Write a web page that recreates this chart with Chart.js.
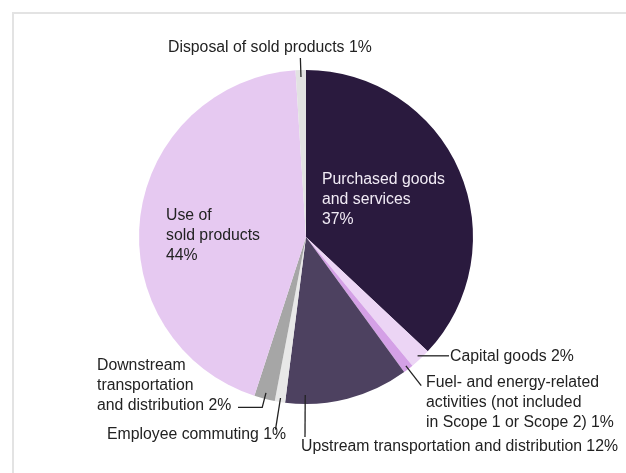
<!DOCTYPE html>
<html>
<head>
<meta charset="utf-8">
<script src="https://cdn.jsdelivr.net/npm/chart.js@4"></script>
<style>
  html, body { margin: 0; padding: 0; background: #fff; }
  #wrap { width: 626px; height: 473px; position: relative; }
</style>
</head>
<body>
<div id="wrap"><canvas id="chart" width="626" height="473"></canvas></div>
<script>
// Scope 3 categories, clockwise from 12 o'clock
const categories = [
    'Purchased goods and services',
    'Capital goods',
    'Fuel- and energy-related activities',
    'Upstream transportation and distribution',
    'Employee commuting',
    'Downstream transportation and distribution',
    'Use of sold products',
    'Disposal of sold products'
];
const shares = [37, 2, 1, 12, 1, 2, 44, 1];
const sliceColors = ['#2a1a3e', '#ecd5f5', '#d4a0e6', '#4d4160', '#e8e8e8', '#a6a6a6', '#e6c9f1', '#e2e2e2'];

// label text lines per slice
const labelLines = [
    ['Purchased goods', 'and services', '37%'],
    ['Capital goods 2%'],
    ['Fuel- and energy-related', 'activities (not included', 'in Scope 1 or Scope 2) 1%'],
    ['Upstream transportation and distribution 12%'],
    ['Employee commuting 1%'],
    ['Downstream', 'transportation', 'and distribution 2%'],
    ['Use of', 'sold products', '44%'],
    ['Disposal of sold products 1%']
];

// label placement (layout only): text origin, leader anchor inside slice
const labelLayout = [
    { x: 322, y: 180, color: '#f1ebf5' },
    { x: 450, y: 357, frac: 0.5, rIn: -4, horizTo: 449 },
    { x: 426, y: 383, frac: 0.5, rIn: -4, rOut: 21 },
    { x: 301, y: 447, frac: 0.84, rIn: -9, rOut: 33 },
    { x: 107, y: 435, frac: 0.5, rIn: -4, rOut: 28 },
    { x: 97, y: 366, frac: 0.5, rIn: -6, rOut: 9, horizTo: 238 },
    { x: 166, y: 216 },
    { x: 168, y: 48, frac: 0.5, rIn: -7, rOut: 12 }
];

const FONT = '15.8px "Liberation Sans", Arial, sans-serif';
const LINE_H = 20;

const labelPlugin = {
    id: 'calloutLabels',
    beforeDraw(chart) {
        const ctx = chart.ctx;
        // light frame at top/left
        ctx.save();
        ctx.fillStyle = '#e3e3e3';
        ctx.fillRect(12, 12, 614, 2);
        ctx.fillRect(12, 12, 2, 461);
        ctx.restore();
    },
    afterDatasetsDraw(chart) {
        const ctx = chart.ctx;
        const arcs = chart.getDatasetMeta(0).data;
        ctx.save();
        ctx.font = FONT;
        ctx.textBaseline = 'middle';
        ctx.textAlign = 'left';
        arcs.forEach((arc, i) => {
            const lay = labelLayout[i];
            const p = arc.getProps(['x', 'y', 'startAngle', 'endAngle', 'outerRadius'], true);
            if (lay.frac !== undefined) {
                const a = p.startAngle + (p.endAngle - p.startAngle) * lay.frac;
                const x0 = p.x + Math.cos(a) * (p.outerRadius + lay.rIn);
                const y0 = p.y + Math.sin(a) * (p.outerRadius + lay.rIn);
                ctx.beginPath();
                ctx.strokeStyle = '#222';
                ctx.lineWidth = 1.3;
                ctx.moveTo(x0, y0);
                let x1 = x0, y1 = y0;
                if (lay.rOut !== undefined) {
                    x1 = p.x + Math.cos(a) * (p.outerRadius + lay.rOut);
                    y1 = p.y + Math.sin(a) * (p.outerRadius + lay.rOut);
                    ctx.lineTo(x1, y1);
                }
                if (lay.horizTo !== undefined) {
                    ctx.lineTo(lay.horizTo, y1);
                }
                ctx.stroke();
            }
            ctx.fillStyle = lay.color || '#222';
            labelLines[i].forEach((line, k) => {
                ctx.fillText(line, lay.x, lay.y + k * LINE_H);
            });
        });
        ctx.restore();
    }
};

new Chart(document.getElementById('chart'), {
    type: 'pie',
    data: {
        labels: categories,
        datasets: [{
            data: shares,
            backgroundColor: sliceColors,
            borderWidth: 0
        }]
    },
    options: {
        responsive: false,
        animation: false,
        layout: {
            padding: { left: 139, right: 153, top: 70, bottom: 69 }
        },
        plugins: {
            legend: { display: false },
            tooltip: { enabled: false }
        }
    },
    plugins: [labelPlugin]
});
</script>
</body>
</html>
